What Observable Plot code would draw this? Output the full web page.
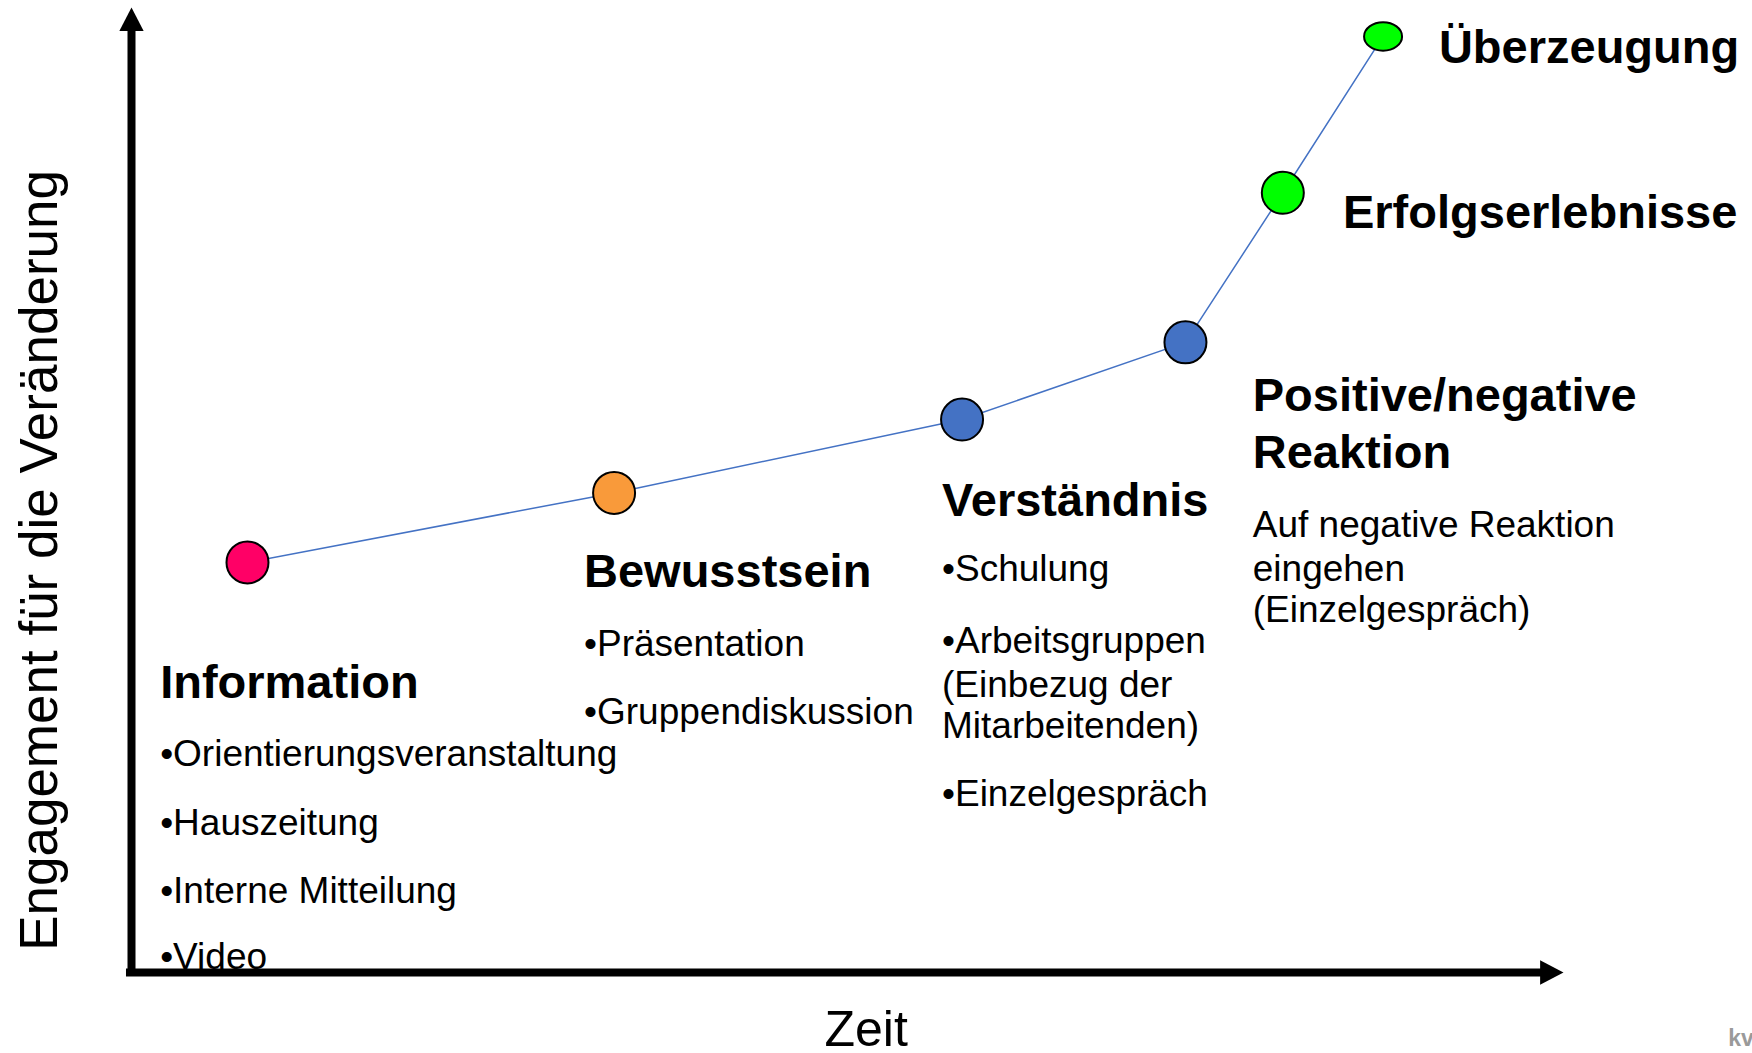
<!DOCTYPE html>
<html>
<head>
<meta charset="utf-8">
<script src="https://cdn.jsdelivr.net/npm/d3@7"></script>
<script src="https://cdn.jsdelivr.net/npm/@observablehq/plot@0.6"></script>
<style>
  html, body { margin: 0; padding: 0; background: #fff; }
  #chart { width: 1752px; height: 1053px; overflow: hidden; }
</style>
</head>
<body>
<div id="chart"></div>
<script>
// ---- Data (time 0..100, engagement 0..100) ----
const stageTime       = [8.1, 33.7, 58.0, 73.6, 80.4, 87.4];
const stageEngagement = [42.5, 49.7, 57.3, 65.3, 80.8, 97.0];
const stageColor      = ["#FF0066", "#F99A3A", "#4472C4", "#4472C4", "#00FF00", "#00FF00"];
const stageShape      = ["circle", "circle", "circle", "circle", "circle", "ellipse"];

const headingText       = ["Information", "Bewusstsein", "Verständnis", "Positive/negative", "Reaktion", "Erfolgserlebnisse", "Überzeugung"];
const headingTime       = [2.0, 31.6, 56.6, 78.3, 78.3, 84.6, 91.3];
const headingEngagement = [28.4, 39.9, 47.3, 58.2, 52.3, 77.2, 94.3];

const itemText = [
  "•Orientierungsveranstaltung", "•Hauszeitung", "•Interne Mitteilung", "•Video",
  "•Präsentation", "•Gruppendiskussion",
  "•Schulung", "•Arbeitsgruppen", "(Einbezug der", "Mitarbeitenden)", "•Einzelgespräch",
  "Auf negative Reaktion", "eingehen", "(Einzelgespräch)"
];
const itemTime = [
  2.0, 2.0, 2.0, 2.0,
  31.6, 31.6,
  56.6, 56.6, 56.6, 56.6, 56.6,
  78.3, 78.3, 78.3
];
const itemEngagement = [
  21.35, 14.3, 7.25, 0.4,
  32.75, 25.8,
  40.6, 33.15, 28.5, 24.25, 17.3,
  45.1, 40.6, 36.3
];

const xLabel = "Zeit";
const yLabel = "Engagement für die Veränderung";
const axisMax = 100;

// ---- custom symbols ----
const arrowRight = {
  draw(ctx, size) {
    const s = Math.sqrt(size / Math.PI);
    const h = 2.6 * s, w = 1.35 * s;
    ctx.moveTo(0, 0); ctx.lineTo(-h, -w); ctx.lineTo(-h, w); ctx.closePath();
  }
};
const arrowUp = {
  draw(ctx, size) {
    const s = Math.sqrt(size / Math.PI);
    const h = 2.6 * s, w = 1.35 * s;
    ctx.moveTo(0, 0); ctx.lineTo(-w, h); ctx.lineTo(w, h); ctx.closePath();
  }
};
const ellipse = {
  draw(ctx, size) {
    const rx = Math.sqrt(size / Math.PI), ry = rx * 0.75, k = 0.5523;
    ctx.moveTo(rx, 0);
    ctx.bezierCurveTo(rx, k * ry, k * rx, ry, 0, ry);
    ctx.bezierCurveTo(-k * rx, ry, -rx, k * ry, -rx, 0);
    ctx.bezierCurveTo(-rx, -k * ry, -k * rx, -ry, 0, -ry);
    ctx.bezierCurveTo(k * rx, -ry, rx, -k * ry, rx, 0);
    ctx.closePath();
  }
};

const stages = stageTime.map((t, i) => ({t, e: stageEngagement[i], color: stageColor[i], shape: stageShape[i]}));
const font = "Liberation Sans, Arial, Helvetica, sans-serif";

const chart = Plot.plot({
  width: 1752,
  height: 1053,
  margin: 0,
  x: {domain: [0, 100], range: [131, 1563], axis: null},
  y: {domain: [0, 100], range: [972, 7], axis: null},
  style: {fontFamily: font, background: "white", overflow: "visible"},
  marks: [
    // axes
    Plot.ruleY([0], {x1: -0.35, x2: axisMax - 1, stroke: "black", strokeWidth: 8}),
    Plot.ruleX([0], {y1: -0.3, y2: axisMax - 1, stroke: "black", strokeWidth: 8}),
    Plot.dot([axisMax], {x: d => d, y: 0, symbol: arrowRight, r: 9, fill: "black", stroke: "none"}),
    Plot.dot([axisMax], {x: 0, y: d => d, symbol: arrowUp, r: 9, fill: "black", stroke: "none"}),
    // curve
    Plot.line(stages, {x: "t", y: "e", stroke: "#4472C4", strokeWidth: 1.5, curve: "linear"}),
    // stage dots
    Plot.dot(stages.filter(d => d.shape === "circle"), {x: "t", y: "e", r: 21, fill: d => d.color, stroke: "black", strokeWidth: 2}),
    Plot.dot(stages.filter(d => d.shape === "ellipse"), {x: "t", y: "e", r: 19, symbol: ellipse, fill: d => d.color, stroke: "black", strokeWidth: 2}),
    // headings
    Plot.text(headingText, {x: (d, i) => headingTime[i], y: (d, i) => headingEngagement[i], text: d => d,
      textAnchor: "start", lineAnchor: "bottom", fontSize: 47, fontWeight: "bold", fill: "black", fontFamily: font}),
    // items
    Plot.text(itemText, {x: (d, i) => itemTime[i], y: (d, i) => itemEngagement[i], text: d => d,
      textAnchor: "start", lineAnchor: "bottom", fontSize: 37, fill: "black", fontFamily: font}),
    // axis labels
    Plot.text([xLabel], {x: 51.3, y: -7.6, text: d => d, textAnchor: "middle", lineAnchor: "bottom", fontSize: 50, fill: "black", fontFamily: font}),
    Plot.text([yLabel], {x: -5.2, y: 42.7, text: d => d, rotate: -90, textAnchor: "middle", lineAnchor: "bottom", fontSize: 53, fill: "black", fontFamily: font}),
    // corner mark
    Plot.text(["kv"], {x: 111.5, y: -7.6, text: d => d, textAnchor: "start", lineAnchor: "bottom", fontSize: 23, fontWeight: "bold", fill: "#9A9A9A", fontFamily: font})
  ]
});
document.getElementById("chart").appendChild(chart);
</script>
</body>
</html>
